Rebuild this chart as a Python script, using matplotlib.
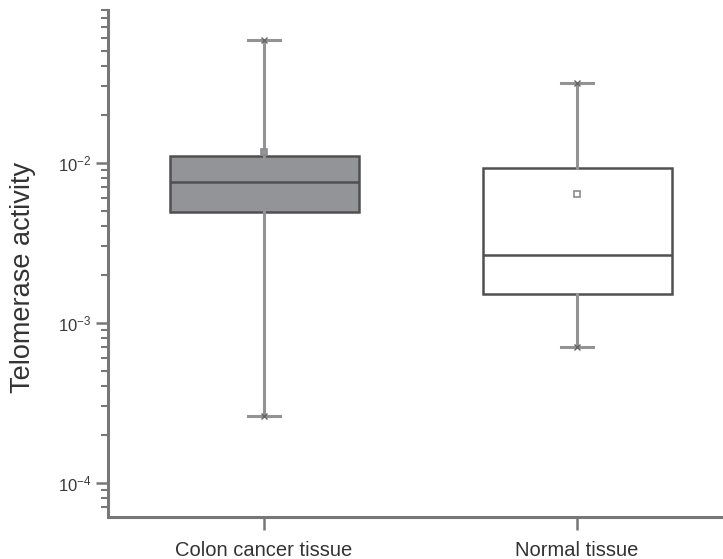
import matplotlib
matplotlib.use("Agg")
import matplotlib.pyplot as plt
from matplotlib.ticker import LogLocator, NullFormatter

plt.rcParams['font.family'] = ['Liberation Sans', 'DejaVu Sans']
plt.rcParams['mathtext.fontset'] = 'custom'
plt.rcParams['mathtext.rm'] = 'Liberation Sans'
plt.rcParams['mathtext.it'] = 'Liberation Sans'

# Values (log scale)
groups = ["Colon cancer tissue", "Normal tissue"]
whisker_low = [2.62e-4, 7.02e-4]
q1 = [0.00493, 0.00151]
medians = [0.00752, 0.00264]
q3 = [0.01103, 0.00924]
whisker_high = [0.0585, 0.0313]
means = [0.01164, 0.00636]
box_fill = ["#939498", "white"]

fig = plt.figure(figsize=(7.23, 5.59), dpi=100)
ax = fig.add_axes([0.1494, 0.0751, 0.8506, 0.9070])

stats = []
for i, name in enumerate(groups):
    stats.append(dict(label=name, whislo=whisker_low[i], q1=q1[i], med=medians[i],
                      q3=q3[i], whishi=whisker_high[i], mean=means[i], fliers=[]))

positions = [1, 2]
bp = ax.bxp(stats, positions=positions, widths=0.604, showmeans=True, patch_artist=True,
            boxprops=dict(edgecolor="#505050", linewidth=1.8),
            medianprops=dict(color="#505050", linewidth=1.8),
            whiskerprops=dict(color="#939393", linewidth=2.2),
            capprops=dict(color="#939393", linewidth=2.2),
            meanprops=dict(marker="s", markersize=5, markerfacecolor="white",
                           markeredgecolor="#8c8c8c", markeredgewidth=1.2),
            capwidths=0.1)
for patch, fc in zip(bp["boxes"], box_fill):
    patch.set_facecolor(fc)
bp["means"][0].set_markerfacecolor("#939498")

# min / max markers at the whisker ends
ax.plot(positions, whisker_high, linestyle="none", marker="x", markersize=5,
        color="#666666", markeredgewidth=1.0)
ax.plot(positions, whisker_low, linestyle="none", marker="x", markersize=5,
        color="#666666", markeredgewidth=1.0)

ax.set_yscale("log")
ax.set_ylim(6.1e-5, 0.09)
ax.set_xlim(0.5016, 2.466)

ax.yaxis.set_minor_locator(LogLocator(base=10, subs=range(2, 10), numticks=20))
ax.yaxis.set_minor_formatter(NullFormatter())
ax.set_yticks([1e-4, 1e-3, 1e-2])
ax.set_yticklabels([r"$10^{-4}$", r"$10^{-3}$", r"$10^{-2}$"], fontsize=12, color="#3a3a3a")

ax.set_xticks(positions)
ax.set_xticklabels(groups, fontsize=14.5, color="#333333")
ax.set_ylabel("Telomerase activity", fontsize=19.5, color="#333333")
ax.yaxis.set_label_coords(-0.117, 0.473)

for side in ["top", "right"]:
    ax.spines[side].set_visible(False)
for side in ["left", "bottom"]:
    ax.spines[side].set_color("#777777")
    ax.spines[side].set_linewidth(2.2)

ax.tick_params(axis="y", which="major", length=9, width=1.8, color="#777777", pad=3)
ax.tick_params(axis="y", which="minor", length=5, width=1.5, color="#777777")
ax.tick_params(axis="x", which="major", length=9, width=1.8, color="#777777", pad=8)

fig.savefig("out.png", dpi=100)
